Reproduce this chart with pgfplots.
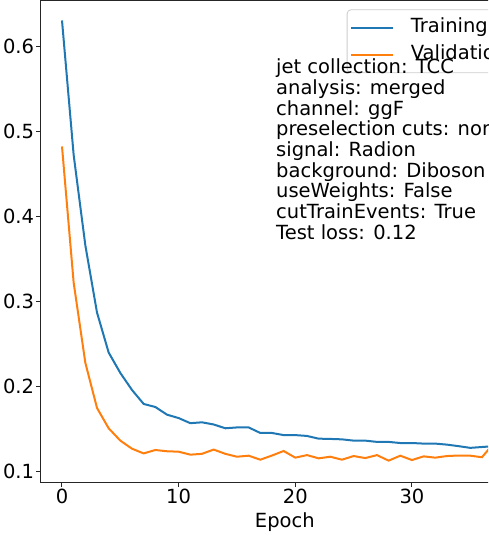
\documentclass[border=0pt]{standalone}
\usepackage{fontspec}
\setmainfont{DejaVu Sans}
\usepackage{pgfplots}
\pgfplotsset{compat=1.18}
\definecolor{mplblue}{HTML}{1F77B4}
\definecolor{mplorange}{HTML}{FF7F0E}
\newcommand{\mplfont}{\fontsize{19.5pt}{23pt}\selectfont}
\begin{document}
\begin{tikzpicture}
\useasboundingbox (-41pt,-53.7pt) rectangle (447pt,482.3pt);
\clip (-41pt,-53.7pt) rectangle (447pt,482.3pt);
\begin{axis}[
  at={(0pt,0pt)}, anchor=south west,
  scale only axis, width=487.6pt, height=482pt,
  xmin=-1.8, xmax=40, ymin=0.08755, ymax=0.6537,
  axis line style={line width=1pt, black!85},
  every tick/.style={line width=1pt, black!85},
  tick align=outside, major tick length=4.7pt,
  xtick={0,10,20,30,40}, ytick={0.1,0.2,0.3,0.4,0.5,0.6},
  xtick pos=bottom, ytick pos=left,
  minor tick num=0,
  /pgf/number format/assume math mode=true,
  yticklabel style={font=\mplfont, /pgf/number format/.cd, fixed, precision=1, fixed zerofill},
  xticklabel style={font=\mplfont},
  ticklabel style={inner sep=2pt},
  xlabel={Epoch}, xlabel style={font=\mplfont, yshift=-3pt},
  legend style={at={(0.627,0.9813)}, anchor=north west, draw=black!20, line width=0.8pt,
    rounded corners=4pt, fill=white, fill opacity=0.8, text opacity=1, font=\mplfont,
    inner xsep=3pt, inner ysep=4.5pt, row sep=0pt, column sep=11pt,
    nodes={inner xsep=6pt, inner ysep=4.5pt, text height=14pt, text depth=4pt}},
  legend cell align=left,
  legend image code/.code={\draw[#1] (0pt,0pt) -- (41.7pt,0pt);},
]
\addplot[mplblue, line width=2pt] coordinates {
(0,0.630) (1,0.472) (2,0.366) (3,0.287) (4,0.240) (5,0.216) (6,0.196)
(7,0.1796) (8,0.176) (9,0.167) (10,0.163) (11,0.157) (12,0.158) (13,0.1555)
(14,0.151) (15,0.152) (16,0.152) (17,0.1455) (18,0.1455) (19,0.143) (20,0.143)
(21,0.142) (22,0.1388) (23,0.1385) (24,0.138) (25,0.1365) (26,0.1365) (27,0.135)
(28,0.135) (29,0.1337) (30,0.1337) (31,0.133) (32,0.133) (33,0.1318) (34,0.130)
(35,0.128) (36,0.129) (37,0.130) (38,0.129)
};
\addlegendentry{Training}
\addplot[mplorange, line width=2pt] coordinates {
(0,0.482) (1,0.322) (2,0.228) (3,0.1749) (4,0.151) (5,0.1365) (6,0.127)
(7,0.1215) (8,0.1255) (9,0.124) (10,0.1235) (11,0.120) (12,0.121) (13,0.126)
(14,0.121) (15,0.1176) (16,0.1188) (17,0.1141) (18,0.119) (19,0.1243) (20,0.1165)
(21,0.1195) (22,0.1157) (23,0.1176) (24,0.1141) (25,0.1184) (26,0.116) (27,0.1195)
(28,0.113) (29,0.1188) (30,0.1137) (31,0.118) (32,0.1165) (33,0.1184) (34,0.119)
(35,0.1188) (36,0.117) (37,0.133) (38,0.122)
};
\addlegendentry{Validation}
\end{axis}
\begin{scope}[every node/.style={anchor=base west, inner sep=0pt, font=\mplfont}]
\node at (235pt,408.3pt) {jet collection: TCC};
\node at (235pt,387.64pt) {analysis: merged};
\node at (235pt,366.98pt) {channel: ggF};
\node at (235pt,346.32pt) {preselection cuts: none};
\node at (235pt,325.66pt) {signal: Radion};
\node at (235pt,305.0pt) {background: Diboson};
\node at (235pt,284.34pt) {useWeights: False};
\node at (235pt,263.68pt) {cutTrainEvents: True};
\node at (235pt,243.02pt) {Test loss: 0.12};
\end{scope}
\end{tikzpicture}
\end{document}
